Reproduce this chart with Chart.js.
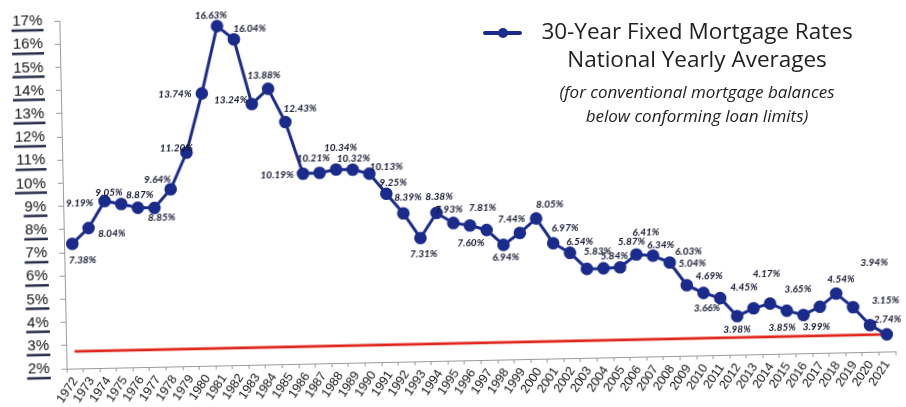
<!DOCTYPE html>
<html>
<head>
<meta charset="utf-8">
<script src="https://cdn.jsdelivr.net/npm/chart.js@4"></script>
<style>
  body { margin: 0; background: #fff; }
  #wrap { position: relative; width: 906px; height: 407px; overflow: hidden; background: #fff; }
  #rateChart { position: absolute; left: 0; top: 0; transform: rotate(-1.2deg); transform-origin: 50px 195px; }
  .key { position: absolute; left: 480px; top: 8px; width: 440px; color: #222; font-family: 'Open Sans', sans-serif; }
  .key .swatch { position: absolute; left: 3px; top: 23px; width: 39px; height: 4px; background: #1a2b8c; border-radius: 2px; }
  .key .swatch::after { content: ''; position: absolute; left: 15px; top: -3px; width: 10px; height: 10px; border-radius: 50%; background: #1a2b8c; }
  .key .l1, .key .l2 { position: absolute; left: 40px; width: 354px; text-align: center; font-size: 22.5px; line-height: 28px; }
  .key .l1 { top: 9px; }
  .key .l2 { top: 37px; }
  .key .l3, .key .l4 { position: absolute; left: 40px; width: 354px; text-align: center; font-size: 17px; font-style: italic; line-height: 24px; }
  .key .l3 { top: 72px; }
  .key .l4 { top: 96px; }
</style>
</head>
<body>
<div id="wrap">
  <canvas id="rateChart" width="906" height="407"></canvas>
  <div class="key">
    <div class="swatch"></div>
    <div class="l1">30-Year Fixed Mortgage Rates</div>
    <div class="l2">National Yearly Averages</div>
    <div class="l3">(for conventional mortgage balances</div>
    <div class="l4">below conforming loan limits)</div>
  </div>
</div>
<script>
const years = ['1972', '1973', '1974', '1975', '1976', '1977', '1978', '1979', '1980', '1981',
  '1982', '1983', '1984', '1985', '1986', '1987', '1988', '1989', '1990', '1991',
  '1992', '1993', '1994', '1995', '1996', '1997', '1998', '1999', '2000', '2001',
  '2002', '2003', '2004', '2005', '2006', '2007', '2008', '2009', '2010', '2011',
  '2012', '2013', '2014', '2015', '2016', '2017', '2018', '2019', '2020', '2021'];

// yearly average 30-year fixed rate, percent
const rates = [7.38, 8.04, 9.19, 9.05, 8.87, 8.85, 9.64, 11.20, 13.74, 16.63,
  16.04, 13.24, 13.88, 12.43, 10.19, 10.21, 10.34, 10.32, 10.13, 9.25,
  8.39, 7.31, 8.38, 7.93, 7.81, 7.60, 6.94, 7.44, 8.05, 6.97,
  6.54, 5.83, 5.84, 5.87, 6.41, 6.34, 6.03, 5.04, 4.69, 4.45,
  3.66, 3.98, 4.17, 3.85, 3.65, 3.99, 4.54, 3.94, 3.15, 2.74];

// today's rate, drawn as a flat line across the whole period
const currentRate = 2.74;

const yTicks = [2, 3, 4, 5, 6, 7, 8, 9, 10, 11, 12, 13, 14, 15, 16, 17];

// where each value label sits relative to its point (px)
const labelShift = [
  [10, 17], [23, 6], [-25, 2], [-12, -12], [2, -13], [7, 10], [-13, -10], [-10, -5], [-27, 0], [-6, -11],
  [16, -10], [-21, -4], [-4, -14], [15, -13], [-26, 1], [-6, -15], [5, -22], [1, -11], [17, -7], [7, -11],
  [5, -16], [3, 16], [3, -16], [-4, -14], [13, -17], [-16, 13], [2, 12], [-8, -14], [14, -14], [12, -15],
  [10, -11], [11, -17], [11, -12], [12, -25], [10, -22], [8, -11], [19, -11], [6, -22], [6, -17], [24, -10],
  [-30, -9], [-17, 21], [-3, -30], [-5, 17], [-5, -26], [-4, 20], [5, -14], [22, -44], [16, -25], [1, -15]
];

const navy = '#1a2b8c';

const valueLabels = {
  id: 'valueLabels',
  afterDatasetsDraw(chart) {
    const ctx = chart.ctx;
    const meta = chart.getDatasetMeta(0);
    ctx.save();
    ctx.font = 'italic bold 10px Lato, sans-serif';
    ctx.fillStyle = '#12152e';
    ctx.textAlign = 'center';
    ctx.textBaseline = 'middle';
    meta.data.forEach((pt, i) => {
      ctx.fillText(rates[i].toFixed(2) + '%', pt.x + labelShift[i][0], pt.y + labelShift[i][1]);
    });
    ctx.restore();
  }
};

// underline under every y tick label
const tickUnderline = {
  id: 'tickUnderline',
  afterDraw(chart) {
    const ctx = chart.ctx;
    const y = chart.scales.y;
    const right = y.right - 5 - 12;
    ctx.save();
    ctx.font = '15px "Liberation Sans", Arial, sans-serif';
    ctx.strokeStyle = '#262d4a';
    ctx.lineWidth = 2.5;
    y.ticks.forEach((t, i) => {
      const w = ctx.measureText(t.value + '%').width;
      const py = y.getPixelForTick(i) + 9;
      ctx.beginPath();
      ctx.moveTo(right - w - 1, py);
      ctx.lineTo(right + 1, py);
      ctx.stroke();
    });
    ctx.restore();
  }
};

new Chart(document.getElementById('rateChart'), {
  type: 'line',
  data: {
    labels: years,
    datasets: [{
      label: '30-Year Fixed Mortgage Rates',
      data: rates,
      borderColor: navy,
      backgroundColor: navy,
      borderWidth: 3,
      pointRadius: 4.8,
      pointBackgroundColor: navy,
      pointBorderColor: navy,
      tension: 0
    }, {
      label: 'Current rate',
      data: years.map(() => currentRate),
      borderColor: '#e0261d',
      borderWidth: 2.8,
      pointRadius: 0,
      tension: 0
    }]
  },
  options: {
    responsive: false,
    animation: false,
    layout: { padding: { top: 17, right: 14, left: 0, bottom: 0 } },
    plugins: { legend: { display: false }, tooltip: { enabled: false } },
    scales: {
      x: {
        offset: true,
        grid: { offset: true, drawOnChartArea: false, tickLength: 4, color: '#9a9a9a' },
        border: { color: '#9a9a9a' },
        ticks: {
          autoSkip: false,
          minRotation: 55,
          maxRotation: 55,
          padding: 2,
          color: '#111',
          font: { family: '"Liberation Sans", Arial, sans-serif', size: 12.5 }
        },
        afterFit: s => { s.height = 38; }
      },
      y: {
        min: 2,
        max: 17,
        afterBuildTicks: s => { s.ticks = yTicks.map(v => ({ value: v })); },
        grid: { drawOnChartArea: false, tickLength: 5, color: '#9a9a9a' },
        border: { color: '#9a9a9a' },
        ticks: {
          padding: 12,
          color: '#111',
          font: { family: '"Liberation Sans", Arial, sans-serif', size: 15 },
          callback: v => v + '%'
        },
        afterFit: s => { s.width = 63; }
      }
    }
  },
  plugins: [valueLabels, tickUnderline]
});
</script>
</body>
</html>
